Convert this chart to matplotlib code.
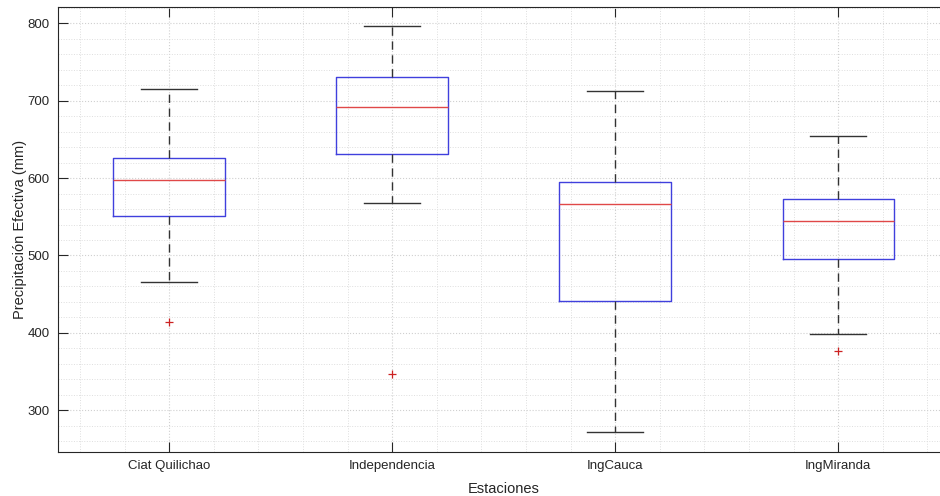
import matplotlib.pyplot as plt
from matplotlib.ticker import MultipleLocator

# Estaciones y estadísticos
estaciones = ['Ciat Quilichao', 'Independencia', 'IngCauca', 'IngMiranda']
bigote_inf = [466, 568, 272, 399]
q1 = [551, 631, 441, 496]
mediana = [597, 692, 567, 544]
q3 = [626, 731, 595, 573]
bigote_sup = [715, 796, 712, 655]
atipicos = [[414], [347], [], [376]]

plt.rcParams['font.family'] = ['Liberation Sans', 'DejaVu Sans']
gris = '#262626'

fig = plt.figure(figsize=(9.4, 4.96), dpi=100)
ax = fig.add_axes([0.0614, 0.0887, 0.949, 0.897])

stats = []
for i, nombre in enumerate(estaciones):
    stats.append({
        'label': nombre,
        'whislo': bigote_inf[i],
        'q1': q1[i],
        'med': mediana[i],
        'q3': q3[i],
        'whishi': bigote_sup[i],
        'fliers': atipicos[i],
    })

ax.bxp(
    stats,
    positions=range(1, len(estaciones) + 1),
    widths=0.5,
    showfliers=True,
    boxprops=dict(color='#4040dd', linewidth=1.0),
    medianprops=dict(color='#e04848', linewidth=1.0),
    whiskerprops=dict(color='#333333', linewidth=1.0, linestyle=(0, (6, 4))),
    capprops=dict(color='#333333', linewidth=1.0),
    capwidths=0.25,
    flierprops=dict(marker='+', markeredgecolor='#cc2222', markersize=6,
                    markeredgewidth=0.9, linestyle='none'),
    zorder=3,
)

ax.set_xlim(0.5, 4.5)
ax.set_ylim(246, 821)
ax.yaxis.set_major_locator(MultipleLocator(100))
ax.yaxis.set_minor_locator(MultipleLocator(20))
ax.xaxis.set_minor_locator(MultipleLocator(0.2))

# Rejilla punteada estilo MATLAB
ax.grid(True, which='major', color='#d0d0d0', linestyle=':', linewidth=0.8)
ax.grid(True, which='minor', color='#dedede', linestyle=':', linewidth=0.7)
ax.set_axisbelow(True)

ax.tick_params(which='major', direction='in', length=7, width=0.8,
               top=True, right=True, colors=gris, labelsize=9.5, pad=6)
ax.tick_params(which='minor', length=0)
for s in ax.spines.values():
    s.set_color(gris)
    s.set_linewidth(0.8)

ax.set_xlabel('Estaciones', fontsize=10.5, color=gris, labelpad=7)
ax.set_ylabel('Precipitación Efectiva (mm)', fontsize=10.5, color=gris,
              labelpad=0)

fig.savefig('out.png', dpi=100)
